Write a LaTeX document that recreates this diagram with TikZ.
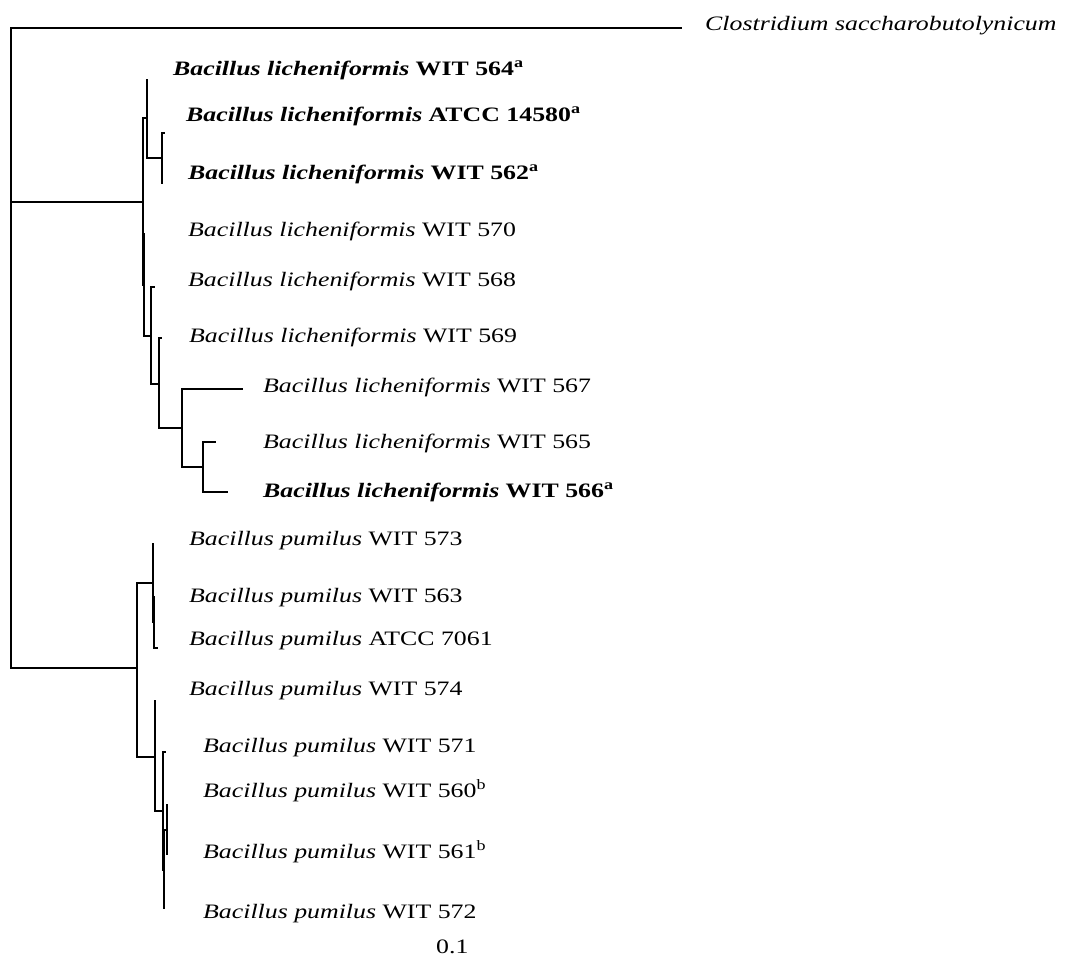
\documentclass[tikz,border=0pt]{standalone}
\usepackage{fontspec}
\setmainfont{Liberation Serif}[FakeStretch=1.26]
\begin{document}
\begin{tikzpicture}[x=1pt,y=-1pt,
  br/.style={line width=1.9pt},
  lab/.style={anchor=base west, inner sep=0pt, font=\fontsize{20.5}{22}\selectfont}]
\useasboundingbox (0,0) rectangle (1072,962);
\fill[white] (0,0) rectangle (1072,962);
% tree coordinates
\coordinate (R) at (11,347);
\coordinate (Cl) at (682,28);
\coordinate (L1) at (143,202);
\coordinate (LU) at (147,118);
\coordinate (e564) at (147,79);
\coordinate (LU2) at (162,158);
\coordinate (e14580) at (165,133);
\coordinate (e562) at (162,184);
\coordinate (L2) at (144,285);
\coordinate (e570) at (144,233);
\coordinate (L3) at (151,336);
\coordinate (e568) at (155,287);
\coordinate (L4) at (159,384);
\coordinate (e569) at (162,338);
\coordinate (L5) at (182,428);
\coordinate (e567) at (243,389);
\coordinate (L6) at (203,467);
\coordinate (e565) at (216,442);
\coordinate (e566) at (228,492);
\coordinate (P1) at (137,668);
\coordinate (PU) at (153,583);
\coordinate (e573) at (153,543);
\coordinate (PU2) at (154,622);
\coordinate (e563) at (154,596);
\coordinate (e7061) at (158,648);
\coordinate (PL) at (155,757);
\coordinate (e574) at (155,700);
\coordinate (PL2) at (163,811);
\coordinate (e571) at (166,752);
\coordinate (PL3) at (164,870);
\coordinate (PL4) at (167,830);
\coordinate (e560) at (167,804);
\coordinate (e561) at (167,855);
\coordinate (e572) at (164,909);
% branches
\foreach \a/\b in {R/Cl, R/L1, R/P1, L1/LU, L1/L2, LU/e564, LU/LU2,
  LU2/e14580, LU2/e562, L2/e570, L2/L3, L3/e568, L3/L4, L4/e569, L4/L5,
  L5/e567, L5/L6, L6/e565, L6/e566, P1/PU, P1/PL, PU/e573, PU/PU2,
  PU2/e563, PU2/e7061, PL/e574, PL/PL2, PL2/e571, PL2/PL3, PL3/PL4,
  PL3/e572, PL4/e560, PL4/e561}
  \draw[br] (\a) |- (\b);
% labels
\node[lab] (tCl) at (705,30) {\textit{Clostridium saccharobutolynicum}};
\node[lab] (t564) at (173,75) {\textbf{\textit{Bacillus licheniformis} WIT 564\textsuperscript{a}}};
\node[lab] (t14580) at (186,121) {\textbf{\textit{Bacillus licheniformis} ATCC 14580\textsuperscript{a}}};
\node[lab] (t562) at (188,179) {\textbf{\textit{Bacillus licheniformis} WIT 562\textsuperscript{a}}};
\node[lab] (t570) at (188,236) {\textit{Bacillus licheniformis} WIT 570};
\node[lab] (t568) at (188,286) {\textit{Bacillus licheniformis} WIT 568};
\node[lab] (t569) at (189,342) {\textit{Bacillus licheniformis} WIT 569};
\node[lab] (t567) at (263,392) {\textit{Bacillus licheniformis} WIT 567};
\node[lab] (t565) at (263,448) {\textit{Bacillus licheniformis} WIT 565};
\node[lab] (t566) at (263,497) {\textbf{\textit{Bacillus licheniformis} WIT 566\textsuperscript{a}}};
\node[lab] (t573) at (189,545) {\textit{Bacillus pumilus} WIT 573};
\node[lab] (t563) at (189,602) {\textit{Bacillus pumilus} WIT 563};
\node[lab] (t7061) at (189,645) {\textit{Bacillus pumilus} ATCC 7061};
\node[lab] (t574) at (189,695) {\textit{Bacillus pumilus} WIT 574};
\node[lab] (t571) at (203,752) {\textit{Bacillus pumilus} WIT 571};
\node[lab] (t560) at (203,797) {\textit{Bacillus pumilus} WIT 560\textsuperscript{b}};
\node[lab] (t561) at (203,858) {\textit{Bacillus pumilus} WIT 561\textsuperscript{b}};
\node[lab] (t572) at (203,918) {\textit{Bacillus pumilus} WIT 572};
\node[lab] (scale) at (436,953) {0.1};
\end{tikzpicture}
\end{document}
